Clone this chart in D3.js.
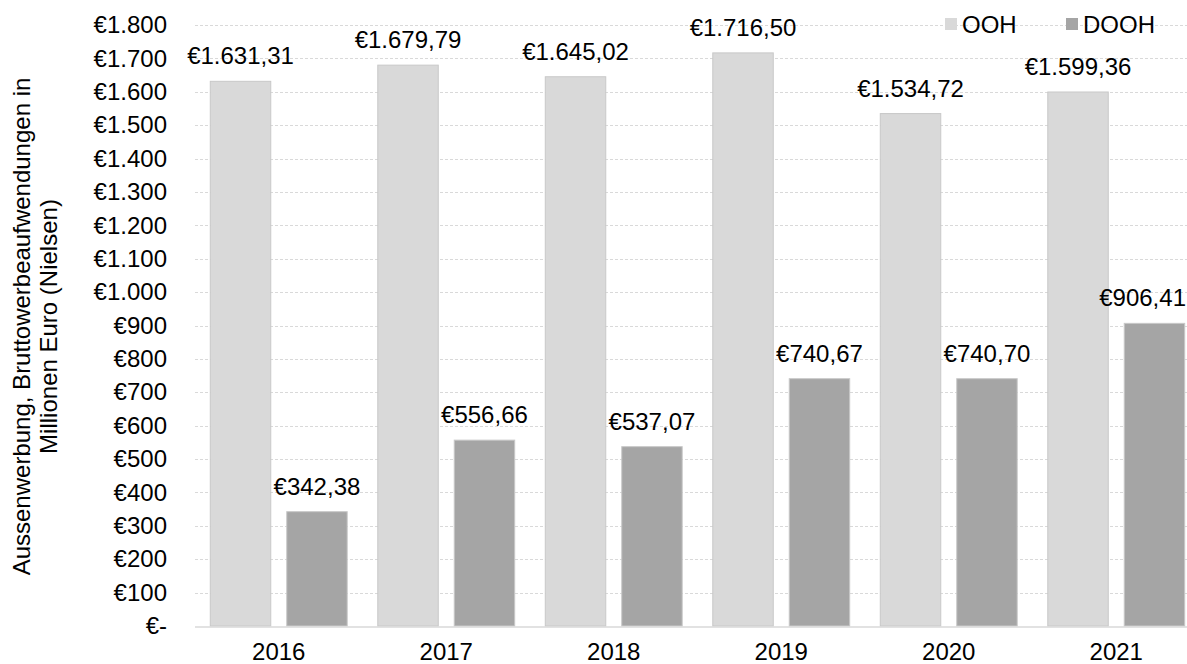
<!DOCTYPE html>
<html>
<head>
<meta charset="utf-8">
<script src="https://cdn.jsdelivr.net/npm/d3@7"></script>
<style>
  body { margin: 0; background: #fff; }
  svg { display: block; font-family: "Liberation Sans", Arial, sans-serif; }
</style>
</head>
<body>
<div id="chart"></div>
<script>
// data
var years = ["2016", "2017", "2018", "2019", "2020", "2021"];
var ooh = [1631.31, 1679.79, 1645.02, 1716.50, 1534.72, 1599.36];
var dooh = [342.38, 556.66, 537.07, 740.67, 740.70, 906.41];
var seriesNames = ["OOH", "DOOH"];
var seriesColors = ["#d9d9d9", "#a5a5a5"];
var yTicks = d3.range(0, 1801, 100);

var W = 1187, H = 664;
var margin = {top: 25, left: 195, right: -13, bottom: 38};
var fontSize = 24;

var svg = d3.select("#chart").append("svg")
  .attr("width", W)
  .attr("height", H);

var plotW = W - margin.left - margin.right;
var plotH = H - margin.top - margin.bottom;

var x0 = d3.scaleBand().domain(years).range([margin.left, margin.left + plotW]).paddingInner(0).paddingOuter(0);
var x1 = d3.scaleBand().domain(seriesNames).range([0, x0.bandwidth()]).paddingInner(0.209).paddingOuter(0.2);
var y = d3.scaleLinear().domain([0, 1800]).range([margin.top + plotH, margin.top]);

// number formats, german style
var de = d3.formatLocale({decimal: ",", thousands: ".", grouping: [3], currency: ["€", ""]});
var fmtTick = function(v) { return v === 0 ? "€-" : "€" + de.format(",.0f")(v); };
var fmtVal = function(v) { return "€" + de.format(",.2f")(v); };

//dashed gridlines
svg.append("g").attr("class", "grid")
  .selectAll("line")
  .data(yTicks.filter(function(d) { return d > 0; }))
  .enter().append("line")
  .attr("x1", margin.left)
  .attr("x2", margin.left + plotW)
  .attr("y1", function(d) { return Math.round(y(d)) + 0.5; })
  .attr("y2", function(d) { return Math.round(y(d)) + 0.5; })
  .attr("stroke", "#d9d9d9")
  .attr("stroke-width", 1)
  .attr("stroke-dasharray", "3,2");

//y axis labels
var yAxis = d3.axisLeft(y).tickValues(yTicks).tickFormat(fmtTick).tickSize(0).tickPadding(0);
var ya = svg.append("g").attr("transform", "translate(167,0)").call(yAxis);
ya.select(".domain").remove();
ya.selectAll("text").attr("font-size", fontSize).attr("fill", "#000").attr("font-family", "Liberation Sans, Arial, sans-serif");

//bars
var data = years.map(function(yr, i) {
  return {year: yr, values: [{key: "OOH", v: ooh[i]}, {key: "DOOH", v: dooh[i]}]};
});

var groups = svg.append("g").attr("class", "bars")
  .selectAll("g")
  .data(data)
  .enter().append("g")
  .attr("transform", function(d) { return "translate(" + x0(d.year) + ",0)"; });

groups.selectAll("rect")
  .data(function(d) { return d.values; })
  .enter().append("rect")
  .attr("x", function(d) { return x1(d.key); })
  .attr("y", function(d) { return y(d.v); })
  .attr("width", x1.bandwidth())
  .attr("height", function(d) { return y(0) - y(d.v); })
  .attr("fill", function(d, i) { return seriesColors[i]; })
  .attr("stroke", "#c8c8c8")
  .attr("stroke-width", 1);

//value labels, kept inside the picture like the original does
groups.selectAll("text")
  .data(function(d) { return d.values; })
  .enter().append("text")
  .attr("x", function(d) { return x1(d.key) + x1.bandwidth() / 2; })
  .attr("y", function(d) { return y(d.v) - 17; })
  .attr("text-anchor", "middle")
  .attr("font-size", fontSize)
  .attr("fill", "#000")
  .text(function(d) { return fmtVal(d.v); })
  .each(function(d) {
    var g = d3.select(this.parentNode).datum();
    var box = this.getBBox();
    var over = x0(g.year) + box.x + box.width - (W - 1);
    if (over > 0) d3.select(this).attr("x", +d3.select(this).attr("x") - over);
  });

//baseline
svg.append("line")
  .attr("x1", margin.left)
  .attr("x2", margin.left + plotW)
  .attr("y1", y(0) + 1)
  .attr("y2", y(0) + 1)
  .attr("stroke", "#d9d9d9")
  .attr("stroke-width", 1.5);

//x axis labels
var xAxis = d3.axisBottom(x0).tickSize(0).tickPadding(0);
var xa = svg.append("g").attr("transform", "translate(0," + (y(0) + 17) + ")").call(xAxis);
xa.select(".domain").remove();
xa.selectAll("text").attr("font-size", fontSize).attr("fill", "#000").attr("font-family", "Liberation Sans, Arial, sans-serif");

//y axis title
var title = svg.append("text")
  .attr("transform", "translate(0," + ((margin.top + y(0)) / 2 + 1) + ") rotate(-90)")
  .attr("text-anchor", "middle")
  .attr("font-size", fontSize)
  .attr("fill", "#000");
title.append("tspan").attr("x", 0).attr("y", 30).text("Aussenwerbung, Bruttowerbeaufwendungen in");
title.append("tspan").attr("x", 0).attr("y", 57).text("Millionen Euro (Nielsen)");

//legend
var legend = svg.append("g").attr("class", "legend")
  .selectAll("g")
  .data(seriesNames)
  .enter().append("g")
  .attr("transform", function(d, i) { return "translate(" + [945, 1066][i] + ",18)"; });

legend.append("rect")
  .attr("width", 12)
  .attr("height", 12)
  .attr("fill", function(d, i) { return seriesColors[i]; });

legend.append("text")
  .attr("x", 17)
  .attr("y", 15)
  .attr("font-size", fontSize)
  .attr("fill", "#000")
  .text(function(d) { return d; });
</script>
</body>
</html>
